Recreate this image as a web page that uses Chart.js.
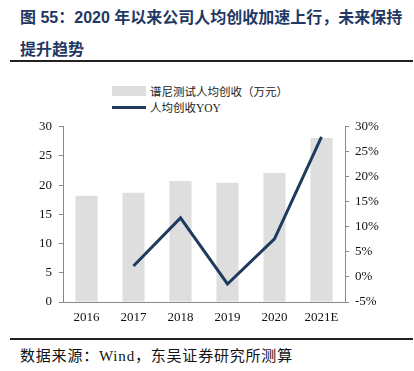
<!DOCTYPE html>
<html>
<head>
<meta charset="utf-8">
<script src="https://cdn.jsdelivr.net/npm/chart.js@4/dist/chart.umd.min.js"></script>
<style>
  body { margin: 0; width: 414px; height: 371px; background: #fff; position: relative; overflow: hidden; }
  .title { position: absolute; left: 20px; top: 2px; width: 392px; font: bold 16px "Liberation Sans", "Noto Sans CJK SC", sans-serif; color: #1f3864; line-height: 32px; }
  .rule { position: absolute; left: 10px; width: 403px; height: 2px; background: #222; }
  .legend { position: absolute; left: 112px; font: 11.5px "Liberation Serif", "Noto Sans CJK SC", serif; color: #222; }
  .legend div { height: 16px; display: flex; align-items: center; }
  .sw { display: inline-block; width: 34px; margin-right: 4px; }
  .src { position: absolute; left: 20px; top: 344px; font: 15px "Liberation Serif", "Noto Sans CJK SC", serif; color: #111; letter-spacing: 0.8px; }
  #wrap { position: absolute; left: 0; top: 112px; width: 414px; height: 223px; }
</style>
</head>
<body>
<div class="title">图 55：2020 年以来公司人均创收加速上行，未来保持<br>提升趋势</div>
<div class="rule" style="top:60px"></div>
<div class="legend" style="top:83px">
  <div><span class="sw" style="height:10px;background:#dedede"></span>谱尼测试人均创收（万元）</div>
  <div><span class="sw" style="height:3px;background:#1f3a5f"></span>人均创收YOY</div>
</div>
<div id="wrap"><canvas id="c"></canvas></div>
<div class="rule" style="top:338px"></div>
<div class="src">数据来源：Wind，东吴证券研究所测算</div>
<script>
const years = ['2016', '2017', '2018', '2019', '2020', '2021E'];
const revenuePerCapita = [18.2, 18.7, 20.7, 20.4, 22.1, 28.1];
const yoy = [null, 2.2, 11.8, -1.4, 7.6, 28.0];

const tickFont = { family: '"Liberation Serif", serif', size: 13 };

new Chart(document.getElementById('c'), {
    data: {
        labels: years,
        datasets: [{
            type: 'line',
            label: '人均创收YOY',
            data: yoy,
            yAxisID: 'y1',
            borderColor: '#1f3a5f',
            borderWidth: 3,
            pointRadius: 0,
            tension: 0
        }, {
            type: 'bar',
            label: '谱尼测试人均创收（万元）',
            data: revenuePerCapita,
            yAxisID: 'y',
            backgroundColor: '#dedede',
            categoryPercentage: 0.94,
            barPercentage: 0.5
        }]
    },
    options: {
        responsive: true,
        maintainAspectRatio: false,
        animation: false,
        layout: { padding: { top: 9 } },
        plugins: { legend: { display: false }, tooltip: { enabled: false } },
        scales: {
            x: {
                grid: { drawOnChartArea: false, drawTicks: false, color: '#888' },
                border: { color: '#888' },
                ticks: { color: '#111', font: tickFont, padding: 8 },
                afterFit: s => { s.height = 33; }
            },
            y: {
                position: 'left',
                min: 0, max: 30,
                ticks: { stepSize: 5, color: '#111', font: tickFont, padding: 7 },
                grid: { drawOnChartArea: false, tickLength: 4, color: '#888' },
                border: { color: '#888' },
                afterFit: s => { s.width = 63; }
            },
            y1: {
                position: 'right',
                min: -5, max: 30,
                ticks: { stepSize: 5, color: '#111', font: tickFont, padding: 6, callback: v => v + '%' },
                grid: { drawOnChartArea: false, tickLength: 4, color: '#888' },
                border: { color: '#888' },
                afterFit: s => { s.width = 69; }
            }
        }
    }
});
</script>
</body>
</html>
